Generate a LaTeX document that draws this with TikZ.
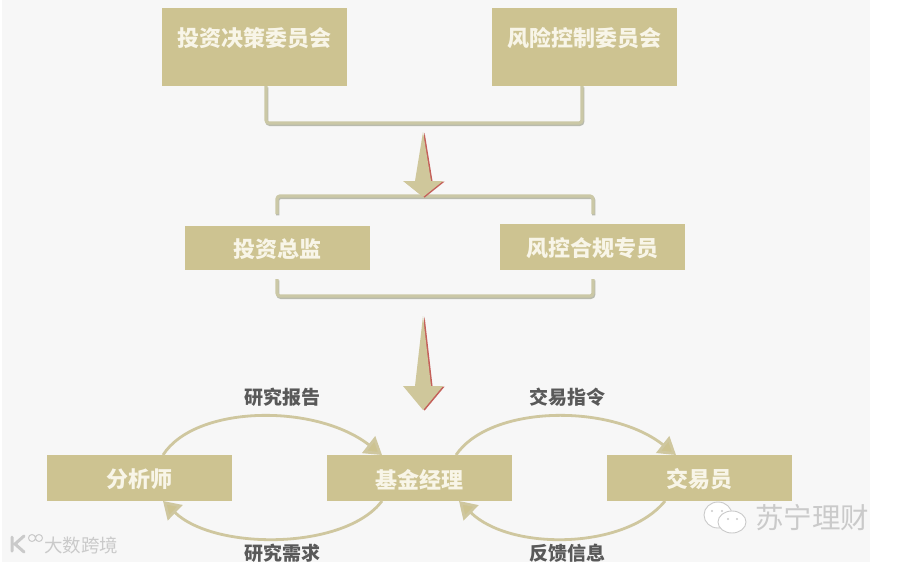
\documentclass[tikz,border=0pt]{standalone}
\usepackage{fontspec}
\usepackage{xcolor}
\usepackage{tikz}
\usetikzlibrary{arrows.meta}
\setmainfont{Noto Sans CJK SC}
\definecolor{FigureSand}{HTML}{CDC391}
\definecolor{FigureBack}{HTML}{F7F7F7}
\definecolor{FigureLoop}{HTML}{CFC79F}
\definecolor{FigureBracket}{HTML}{CBC8A6}
\definecolor{FigureShade}{HTML}{B9BBAE}
\definecolor{FigureArrow}{HTML}{CFC79B}
\definecolor{FigureRed}{HTML}{C4605A}
\definecolor{FigureInk}{HTML}{595959}
\definecolor{FigureMark}{HTML}{CACACA}
\definecolor{FigureBoxText}{HTML}{F8F5E8}
\tikzset{
  role box/.style={fill=FigureSand,minimum width=185,minimum height=46,inner sep=0pt,
    text height=22pt,text=FigureBoxText,font=\fontsize{22}{24}\selectfont\bfseries},
  flow label/.style={text=FigureInk,inner sep=0pt,font=\fontsize{19}{20}\selectfont\bfseries},
  mark text/.style={text=FigureMark,inner sep=0pt},
  bracket line/.style={draw=FigureBracket,line width=3.2pt,rounded corners=3pt,
    preaction={draw=FigureShade,line width=3.2pt,transform canvas={shift={(0.8pt,-1.4pt)}}}},
  loop line/.style={draw=FigureLoop,line width=2.8pt,
    -{Triangle[length=17pt,width=21pt,fill=FigureSand]}},
  bubble/.style={fill=white,draw=FigureMark,line width=0.9pt}
}
\newcommand{\DownDart}[5]{%
  \fill[#5] (#1,#2) -- (#1+8,#3-#4) -- (#1+20,#3-#4) -- (#1,#3) -- (#1-20,#3-#4) -- (#1-8,#3-#4) -- cycle;%
}
\begin{document}
\begin{tikzpicture}[x=1pt,y=-1pt]
  \path[use as bounding box] (0,0) rectangle (897,562);
  \fill[FigureBack] (2,0) rectangle (870,562);

  % boxes, top to bottom
  \node[role box,minimum height=78,text depth=24pt] (invest) at (254.5,47) {投资决策委员会};
  \node[role box,minimum height=78,text depth=24pt] (risk) at (584.5,47) {风险控制委员会};
  \node[role box,minimum height=44] (director) at (277,248) {投资总监};
  \node[role box] (compliance) at (592,247) {风控合规专员};
  \node[role box] (analyst) at (139.5,478) {分析师};
  \node[role box] (manager) at (419,478) {基金经理};
  \node[role box] (trader) at (699,478) {交易员};

  % brackets
  \coordinate (investfoot) at (266,86);
  \coordinate (riskfoot) at (582,86);
  \coordinate (directorhead) at (277,214);
  \coordinate (compliancehead) at (593,214);
  \coordinate (directorfoot) at (277,279);
  \coordinate (compliancefoot) at (593,279);
  \draw[bracket line] (investfoot) -- (266,123) -- (582,123) -- (riskfoot);
  \draw[bracket line] (directorhead) -- (277,196) -- (593,196) -- (compliancehead);
  \draw[bracket line] (directorfoot) -- (277,296) -- (593,296) -- (compliancefoot);

  % block arrows
  \begin{scope}[shift={(1.6,0.6)}]
    \DownDart{423}{132}{197}{16}{FigureRed}
    \DownDart{423}{316}{410}{24}{FigureRed}
  \end{scope}
  \DownDart{423}{132}{197}{16}{FigureArrow}
  \DownDart{423}{316}{410}{24}{FigureArrow}

  % loops between the three roles
  \coordinate (analysttop) at (163,455);
  \coordinate (analystlow) at (163,501);
  \coordinate (managertopl) at (382,455);
  \coordinate (managerlowl) at (382,501);
  \coordinate (managertopr) at (456,455);
  \coordinate (managerlowr) at (459,501);
  \coordinate (tradertop) at (676,455);
  \coordinate (traderlow) at (665,501);
  \draw[loop line] (analysttop) .. controls (195,405) and (315,403) .. (managertopl);
  \draw[loop line] (managerlowl) .. controls (345,550) and (215,551) .. (analystlow);
  \draw[loop line] (managertopr) .. controls (490,405) and (610,403) .. (tradertop);
  \draw[loop line] (traderlow) .. controls (625,550) and (510,551) .. (managerlowr);

  \node[flow label] (report) at (282,397) {研究报告};
  \node[flow label] (demand) at (282,553) {研究需求};
  \node[flow label] (order) at (567,397) {交易指令};
  \node[flow label] (feedback) at (567,553) {反馈信息};

  % watermarks
  \draw[FigureMark,line width=3pt,line cap=round] (12,537) -- (12,551) (24,536) -- (15,544) -- (24,552);
  \draw[FigureMark,line width=1pt] (32,538) circle (3.5) (39,538) circle (3.5);
  \node[mark text,font=\fontsize{18.5}{20}\selectfont] (dashu) at (81,545) {大数跨境};
  \filldraw[bubble] (718,515) ellipse (14 and 13);
  \filldraw[bubble] (732,522) ellipse (14 and 11);
  \fill[FigureMark] (712,511) circle (1.2) (722,511) circle (1.2) (728,519) circle (1.1) (737,519) circle (1.1);
  \node[mark text,font=\fontsize{28.5}{30}\selectfont] (suning) at (812,518) {苏宁理财};
\end{tikzpicture}
\end{document}
